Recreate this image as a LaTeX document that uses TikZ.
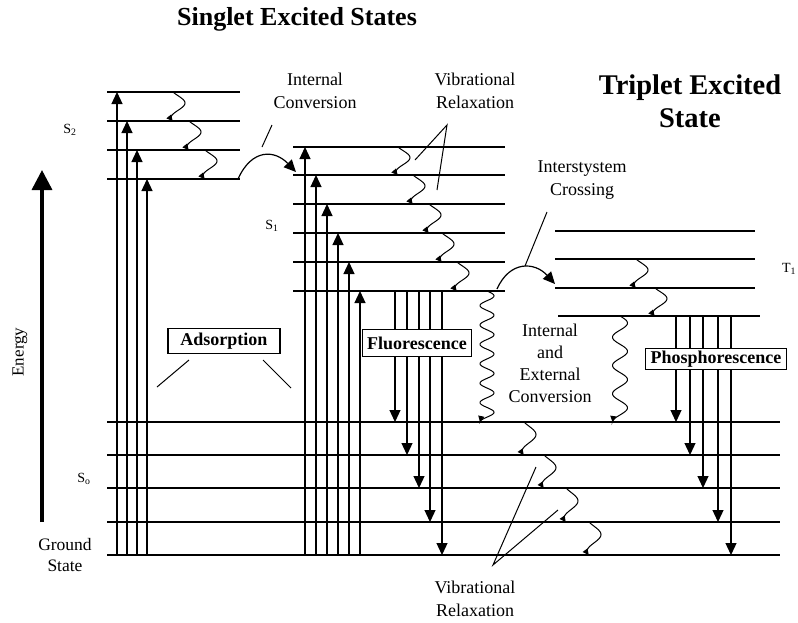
\documentclass[tikz,border=0pt]{standalone}
\usepackage{fontspec}
\setmainfont{Liberation Serif}
\usetikzlibrary{arrows.meta}

\tikzset{
  level/.style={line width=1.7pt},
  trans/.style={line width=1.2pt,-{Triangle[length=12pt,width=11pt]}},
  wig/.style={line width=1pt,-{Triangle[length=6pt,width=6pt]}},
  curv/.style={line width=1.2pt,-{Triangle[length=12pt,width=11pt]}},
  pointer/.style={line width=1pt},
  lbl/.style={font=\fontsize{18}{23}\selectfont,align=center,inner sep=0pt},
  statelbl/.style={font=\fontsize{14}{16}\selectfont,inner sep=0pt},
  title/.style={font=\fontsize{26}{33}\selectfont\bfseries,align=center,inner sep=0pt},
  boxlbl/.style={draw,line width=1.3pt,fill=white,inner xsep=5pt,inner ysep=4pt,font=\fontsize{18}{20}\selectfont\bfseries},
}

% small wavy relaxation arrow: centre x, upper level, lower level
\newcommand{\wig}[3]{%
  \draw[wig] plot[domain=-45:310,samples=30,variable=\ph] ({#1+7*sin(\ph)},{#2+(#3-#2)*((\ph+45)/355)});}

\begin{document}
\begin{tikzpicture}[x=1pt,y=-1pt]
  \useasboundingbox (0,0) rectangle (798,622);

  % Titles
  \node[title] (tsing) at (297,19) {Singlet Excited States};
  \node[title,font=\fontsize{28.5}{33}\selectfont\bfseries] (ttrip) at (690,101) {Triplet Excited\\State};

  % Energy axis
  \draw[line width=3.5pt,-{Triangle[length=20pt,width=20pt]}] (42,522) -- (42,170);
  \node[font=\fontsize{17}{19}\selectfont,rotate=90] (energy) at (20,352) {Energy};

  % Levels
  \foreach \y in {92,121,150,179} \draw[level] (107,\y) -- (240,\y);
  \foreach \y in {147,175,204,233,262,291} \draw[level] (293,\y) -- (505,\y);
  \foreach \y in {231,259,288} \draw[level] (555,\y) -- (755,\y);
  \draw[level] (558,316) -- (760,316);
  \foreach \y in {422,455,488,522,555} \draw[level] (107,\y) -- (780,\y);

  % State labels
  \node[statelbl] (s2) at (70,130) {S\textsubscript{2}};
  \node[statelbl] (s1) at (272,226) {S\textsubscript{1}};
  \node[statelbl] (s0) at (84,479) {S\textsubscript{o}};
  \node[statelbl] (t1) at (789,269) {T\textsubscript{1}};
  \node[lbl,font=\fontsize{17.5}{21}\selectfont] (ground) at (65,555) {Ground\\State};

  % Absorption
  \foreach \x/\y in {117/92,127/121,137/150,147/179}
    \draw[trans] (\x,555) -- (\x,\y);
  \foreach \x/\y in {305/147,316/175,327/204,338/233,349/262,360/291}
    \draw[trans] (\x,555) -- (\x,\y);

  % Fluorescence
  \foreach \x/\y in {395/422,407/455,419/488,430/522,442/555}
    \draw[trans] (\x,291) -- (\x,\y);

  % Phosphorescence
  \foreach \x/\y in {676/422,690/455,703/488,718/522,731/555}
    \draw[trans] (\x,316) -- (\x,\y);

  % Vibrational relaxation
  \wig{178}{92}{121}
  \wig{194}{121}{150}
  \wig{210}{150}{179}
  \wig{403}{147}{175}
  \wig{418}{175}{204}
  \wig{434}{204}{233}
  \wig{447}{233}{262}
  \wig{462}{262}{291}
  \wig{641}{259}{288}
  \wig{660}{288}{316}
  \wig{529}{422}{455}
  \wig{549}{455}{488}
  \wig{571}{488}{522}
  \wig{594}{522}{555}

  % Internal and external conversion
  \draw[wig] plot[domain=0:2430,samples=220,variable=\ph] ({487+7*sin(\ph)},{291+131*(\ph/2430)});
  \draw[wig] plot[domain=0:1350,samples=140,variable=\ph] ({620+7.5*sin(\ph)},{316+106*(\ph/1350)});

  % Internal conversion and intersystem crossing
  \coordinate (icA) at (238,179);
  \coordinate (icB) at (296,172);
  \draw[curv] (icA) .. controls (252,148) and (275,150) .. (icB);
  \coordinate (iscA) at (497,289);
  \coordinate (iscB) at (555,284);
  \draw[curv] (iscA) .. controls (510,260) and (535,262) .. (iscB);

  % Labels
  \node[lbl] (ic) at (315,91) {Internal\\Conversion};
  \node[lbl] (vrtop) at (475,91) {Vibrational\\Relaxation};
  \node[lbl] (isc) at (582,180) {Interstystem\\Crossing};
  \node[lbl,font=\fontsize{18}{22}\selectfont] (iec) at (550,363) {Internal\\and\\External\\Conversion};
  \node[lbl] (vrbot) at (475,599) {Vibrational\\Relaxation};

  \node[boxlbl,minimum width=112pt,minimum height=24pt] (adsorp) at (224,341) {Adsorption};
  \node[boxlbl,minimum height=27pt] (fluor) at (417,343) {Fluorescence};
  \node[boxlbl,inner ysep=2pt] (phos) at (716,359) {Phosphorescence};

  % Pointers
  \coordinate (icP) at (272,125);
  \coordinate (icQ) at (262,147);
  \draw[pointer] (icP) -- (icQ);
  \coordinate (vrP) at (447,125);
  \coordinate (vrQ) at (415,160);
  \coordinate (vrR) at (437,190);
  \draw[pointer] (vrQ) -- (vrP) -- (vrR);
  \coordinate (adP) at (189,360);
  \coordinate (adQ) at (157,387);
  \coordinate (adR) at (263,360);
  \coordinate (adS) at (291,388);
  \draw[pointer] (adP) -- (adQ);
  \draw[pointer] (adR) -- (adS);
  \coordinate (iscP) at (547,212);
  \coordinate (iscQ) at (525,266);
  \draw[pointer] (iscP) -- (iscQ);
  \coordinate (vbP) at (493,565);
  \coordinate (vbQ) at (536,467);
  \coordinate (vbR) at (558,510);
  \draw[pointer] (vbQ) -- (vbP) -- (vbR);
\end{tikzpicture}
\end{document}
